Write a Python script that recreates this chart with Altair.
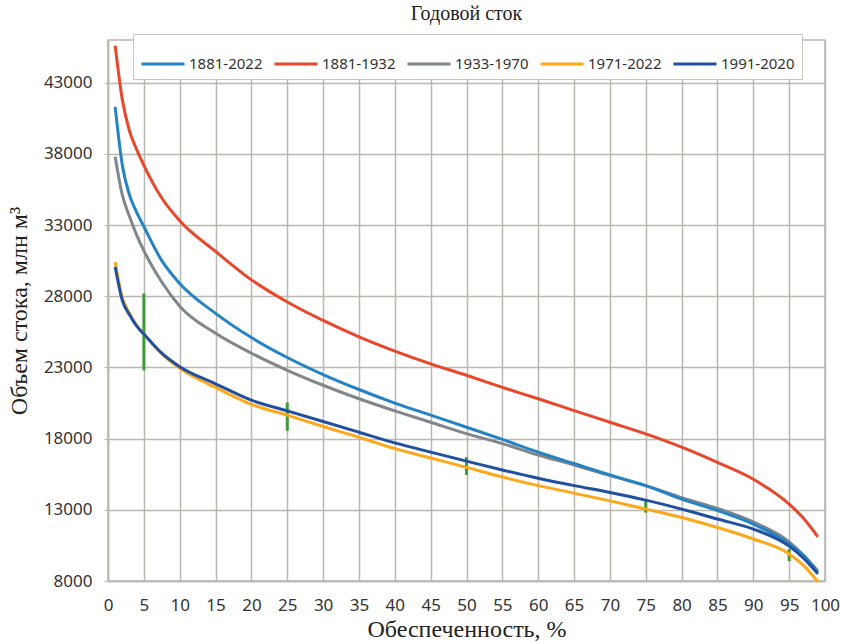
import altair as alt
import pandas as pd

# Обеспеченность, %
X = [1, 2, 3, 4, 5, 7.5, 10, 15, 20, 25, 30, 35, 40, 45, 50, 55, 60, 65, 70, 75, 80, 85, 90, 95, 97, 99]

s_1881_2022 = [41300, 37200, 35100, 33900, 32900, 30500, 28900, 26800, 25100, 23700, 22500, 21450, 20500,
               19650, 18800, 17950, 17050, 16250, 15450, 14700, 13750, 12950, 12000, 10600, 9800, 8600]
s_1881_1932 = [45600, 41800, 39600, 38300, 37200, 34900, 33300, 31150, 29150, 27600, 26300, 25150, 24150,
               23250, 22450, 21600, 20800, 19970, 19150, 18330, 17400, 16330, 15150, 13400, 12400, 11100]
s_1933_1970 = [37800, 35100, 33600, 32300, 31200, 29000, 27300, 25400, 24000, 22800, 21750, 20800, 19950,
               19150, 18350, 17650, 16850, 16150, 15400, 14700, 13850, 13100, 12150, 10750, 9800, 8700]
s_1971_2022 = [30400, 27900, 26800, 25950, 25350, 23950, 22950, 21600, 20400, 19650, 18850, 18100, 17300,
               16640, 15980, 15300, 14700, 14170, 13630, 13050, 12460, 11760, 10950, 9900, 9100, 7950]
s_1991_2020 = [30050, 27700, 26700, 25900, 25350, 24000, 23050, 21850, 20700, 19950, 19200, 18450, 17700,
               17050, 16420, 15800, 15220, 14700, 14220, 13680, 13050, 12350, 11650, 10450, 9600, 8500]

series_names = ["1881-2022", "1881-1932", "1933-1970", "1971-2022", "1991-2020"]
series_colors = ["#2483c5", "#e8472c", "#80868a", "#ffa81c", "#2150a0"]

# confidence marks (green)
ci_x = [5, 25, 50, 75, 95]
ci_lo = [22800, 18550, 15450, 12800, 9400]
ci_hi = [28200, 20550, 16700, 13750, 10250]

x_ticks = list(range(0, 101, 5))
y_ticks = [8000, 13000, 18000, 23000, 28000, 33000, 38000, 43000]

draw_order = [("1933-1970", s_1933_1970), ("1881-2022", s_1881_2022), ("1971-2022", s_1971_2022),
              ("1991-2020", s_1991_2020), ("1881-1932", s_1881_1932)]
rows = []
for name, vals in draw_order:
    for xv, yv in zip(X, vals):
        rows.append({"p": xv, "v": yv, "s": name})
df = pd.DataFrame(rows)
ci = pd.DataFrame({"p": ci_x, "lo": ci_lo, "hi": ci_hi})

grid = "#b9b9b1"
xs = alt.Scale(domain=[0, 100], nice=False, zero=False)
ys = alt.Scale(domain=[8000, 46000], nice=False, zero=False)

x_axis = alt.Axis(values=x_ticks, title="Обеспеченность, %", labelFont="Noto Sans", labelFontSize=17,
                  labelColor="#333333", titleFont="Liberation Serif", titleFontSize=24,
                  titleFontWeight="normal", titleColor="#222222", ticks=False, labelPadding=16,
                  titlePadding=4, domainColor=grid, domainWidth=1.5, gridColor=grid, gridWidth=1.5,
                  labelFlush=False)
y_axis = alt.Axis(values=y_ticks, format="d", title="Объем стока, млн м³", labelFont="Noto Sans",
                  labelFontSize=17, labelColor="#333333", titleFont="Liberation Serif", titleFontSize=24,
                  titleFontWeight="normal", titleColor="#222222", tickSize=4, tickColor=grid,
                  labelPadding=12, titlePadding=12, domainColor=grid, domainWidth=1.5, gridColor=grid,
                  gridWidth=1.5)

rules = alt.Chart(ci).mark_rule(color="#3f9a3a", strokeWidth=3).encode(
    x=alt.X("p:Q", scale=xs, axis=x_axis),
    y=alt.Y("lo:Q", scale=ys, axis=y_axis),
    y2="hi:Q",
)

lines = alt.Chart(df).mark_line(strokeWidth=3, interpolate="monotone").encode(
    x=alt.X("p:Q", scale=xs, axis=x_axis),
    y=alt.Y("v:Q", scale=ys, axis=y_axis),
    color=alt.Color("s:N", scale=alt.Scale(domain=series_names, range=series_colors),
                    legend=alt.Legend(title=None, orient="none", legendX=25, legendY=-6,
                                      direction="horizontal", columns=5, symbolType="stroke",
                                      symbolSize=1849, symbolStrokeWidth=3, labelFont="Noto Sans",
                                      labelFontSize=15, labelColor="#333333", labelOffset=3,
                                      columnPadding=5, padding=7, fillColor="white",
                                      strokeColor="#c8c8c0")),
    detail="s:N",
)

chart = alt.layer(rules, lines).properties(
    width=717, height=541,
    autosize="none",
    padding={"left": 108, "top": 40, "right": 16, "bottom": 61},
    title=alt.Title("Годовой сток", font="Liberation Serif", fontSize=20, fontWeight="normal",
                    color="#222222", offset=10, anchor="middle"),
).configure_view(stroke=grid, strokeWidth=1.5)

chart.save("out.html", embed_options={"renderer": "svg", "actions": False})
